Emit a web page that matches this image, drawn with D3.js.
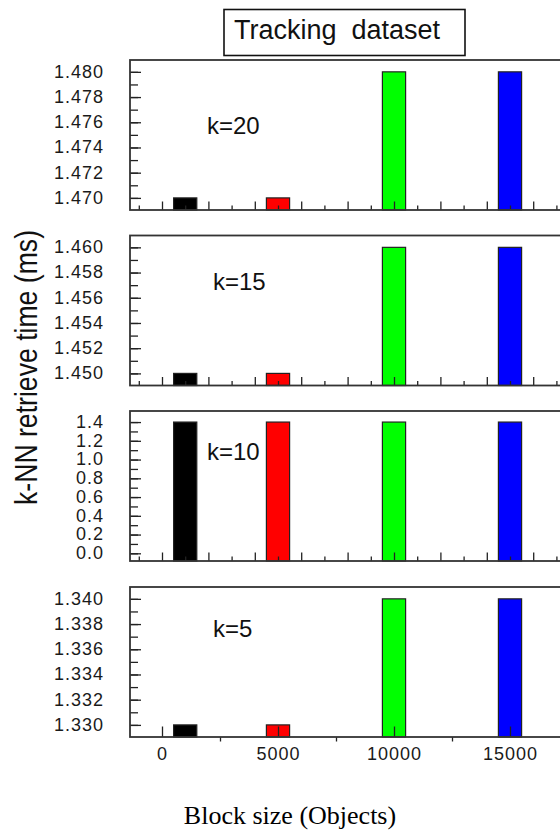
<!DOCTYPE html>
<html>
<head>
<meta charset="utf-8">
<script src="https://cdn.jsdelivr.net/npm/d3@7"></script>
<style>
  body { margin: 0; background: #fff; }
  svg { display: block; font-family: "Liberation Sans", Arial, sans-serif; }
</style>
</head>
<body>
<script>
// block sizes (objects) and bar colours
var blockSizes = [1000, 5000, 10000, 15000];
var barColors = ['#000000', '#ff0000', '#00ff00', '#0000ff'];

// retrieve time (ms) per k
var k20 = [1.470, 1.470, 1.480, 1.480];
var k15 = [1.450, 1.450, 1.460, 1.460];
var k10 = [1.4, 1.4, 1.4, 1.4];
var k5 = [1.330, 1.330, 1.340, 1.340];

var panelNames = ['k=20', 'k=15', 'k=10', 'k=5'];

// tick labels
var ticks20 = [1.470, 1.472, 1.474, 1.476, 1.478, 1.480];
var ticks15 = [1.450, 1.452, 1.454, 1.456, 1.458, 1.460];
var ticks10 = [0.0, 0.2, 0.4, 0.6, 0.8, 1.0, 1.2, 1.4];
var ticks5 = [1.330, 1.332, 1.334, 1.336, 1.338, 1.340];
var xTickLabels = [0, 5000, 10000, 15000];

var W = 560, H = 831;
var frameLeft = 130, frameRight = 572, panelH = 150;

var svg = d3.select('body')
  .append('svg')
  .attr('width', W)
  .attr('height', H);

var x = d3.scaleLinear()
  .domain([0, 15000])
  .range([162, 510]);

var panels = [
  {values: k20, ticks: ticks20, top: 60, domain: [1.46904, 1.48094], fmt: '.3f', minor: 0.001, lx: 207, ly: 74},
  {values: k15, ticks: ticks15, top: 235.5, domain: [1.44904, 1.46094], fmt: '.3f', minor: 0.001, lx: 213, ly: 54},
  {values: k10, ticks: ticks10, top: 411, domain: [-0.082, 1.518], fmt: '.1f', minor: 0.1, lx: 207, ly: 49},
  {values: k5, ticks: ticks5, top: 587, domain: [1.32904, 1.34094], fmt: '.3f', minor: 0.001, lx: 213, ly: 50}
];

panels.forEach(function(p, pi) {
  var bottom = p.top + panelH;
  var y = d3.scaleLinear().domain(p.domain).range([bottom, p.top]);
  var g = svg.append('g');

  g.append('rect')
    .attr('x', frameLeft).attr('y', p.top)
    .attr('width', frameRight - frameLeft).attr('height', panelH)
    .attr('fill', '#fff');

  // panel label (k=..)
  g.append('text')
    .attr('x', p.lx).attr('y', p.top + p.ly)
    .attr('font-size', '24px')
    .attr('fill', '#111')
    .text(panelNames[pi]);

  // bars
  g.append('g')
    .selectAll('rect')
    .data(p.values)
    .enter()
      .append('rect')
      .attr('x', (d, i) => x(blockSizes[i] - 500))
      .attr('width', (d, i) => x(blockSizes[i] + 500) - x(blockSizes[i] - 500))
      .attr('y', d => y(d))
      .attr('height', d => bottom - y(d))
      .attr('fill', (d, i) => barColors[i])
      .attr('stroke', '#222')
      .attr('stroke-width', 1.2);

  // minor y ticks
  var lo = p.ticks[0] - p.minor, hi = p.ticks[p.ticks.length - 1] + p.minor;
  var minors = d3.range(Math.round((hi - lo) / p.minor) + 1)
    .map(i => lo + i * p.minor)
    .filter(v => y(v) > p.top + 2 && y(v) < bottom - 2);
  var yMinor = g.append('g')
    .attr('transform', `translate(${frameLeft},0)`)
    .call(d3.axisLeft(y).tickValues(minors).tickSize(-8).tickFormat(''));
  yMinor.select('.domain').remove();

  // major y ticks + labels
  var yMajor = g.append('g')
    .attr('transform', `translate(${frameLeft},0)`)
    .call(d3.axisLeft(y).tickValues(p.ticks).tickSize(-11).tickPadding(26).tickFormat(d3.format(p.fmt)));
  yMajor.select('.domain').remove();
  yMajor.selectAll('text')
    .attr('font-size', '18px')
    .attr('font-family', '"Liberation Sans", Arial, sans-serif')
    .attr('fill', '#1a1a1a')
    .attr('dy', '0.3em')
    .style('letter-spacing', '1px');

  if (pi < 3) {
    // ticks along the bottom, every 1000
    var even = d3.range(-1000, 17001, 2000).map(v => v + 1000);
    var odd = d3.range(-1000, 17001, 2000);
    var xa = g.append('g').attr('transform', `translate(0,${bottom})`)
      .call(d3.axisBottom(x).tickValues(even).tickSize(-8.5).tickFormat(''));
    xa.select('.domain').remove();
    var xb = g.append('g').attr('transform', `translate(0,${bottom})`)
      .call(d3.axisBottom(x).tickValues(odd).tickSize(-4.5).tickFormat(''));
    xb.select('.domain').remove();
  } else {
    var xMajor = g.append('g').attr('transform', `translate(0,${bottom})`)
      .call(d3.axisBottom(x).tickValues(xTickLabels).tickSize(-10.5).tickPadding(10.5).tickFormat(d => d));
    xMajor.select('.domain').remove();
    xMajor.selectAll('text')
      .attr('font-size', '18px')
      .attr('font-family', '"Liberation Sans", Arial, sans-serif')
      .attr('fill', '#1a1a1a')
      .style('letter-spacing', '1px');
    var xMinor = g.append('g').attr('transform', `translate(0,${bottom})`)
      .call(d3.axisBottom(x).tickValues([2500, 7500, 12500]).tickSize(4.5).tickFormat(''));
    xMinor.select('.domain').remove();
  }

  g.selectAll('.tick line').attr('stroke', '#222').attr('stroke-width', 1.3);

  // frame on top
  g.append('rect')
    .attr('x', frameLeft).attr('y', p.top)
    .attr('width', frameRight - frameLeft).attr('height', panelH)
    .attr('fill', 'none')
    .attr('stroke', '#333')
    .attr('stroke-width', 1.8);
});

// title box
svg.append('rect')
  .attr('x', 224).attr('y', 9.5)
  .attr('width', 241).attr('height', 46)
  .attr('fill', '#fff')
  .attr('stroke', '#111')
  .attr('stroke-width', 1.6);
svg.append('text')
  .attr('x', 234).attr('y', 39)
  .attr('font-size', '27px')
  .attr('fill', '#111')
  .style('white-space', 'pre')
  .text('Tracking  dataset');

// y axis title
svg.append('text')
  .attr('transform', 'translate(36.5,367.5) rotate(-90)')
  .attr('text-anchor', 'middle')
  .attr('font-size', '31px')
  .attr('textLength', 275)
  .attr('lengthAdjust', 'spacingAndGlyphs')
  .attr('fill', '#111')
  .text('k-NN retrieve time (ms)');

// x axis title
svg.append('text')
  .attr('x', 290).attr('y', 824)
  .attr('text-anchor', 'middle')
  .attr('font-size', '26px')
  .style('font-family', '"Liberation Serif", "Times New Roman", serif')
  .attr('fill', '#000')
  .text('Block size (Objects)');
</script>
</body>
</html>
